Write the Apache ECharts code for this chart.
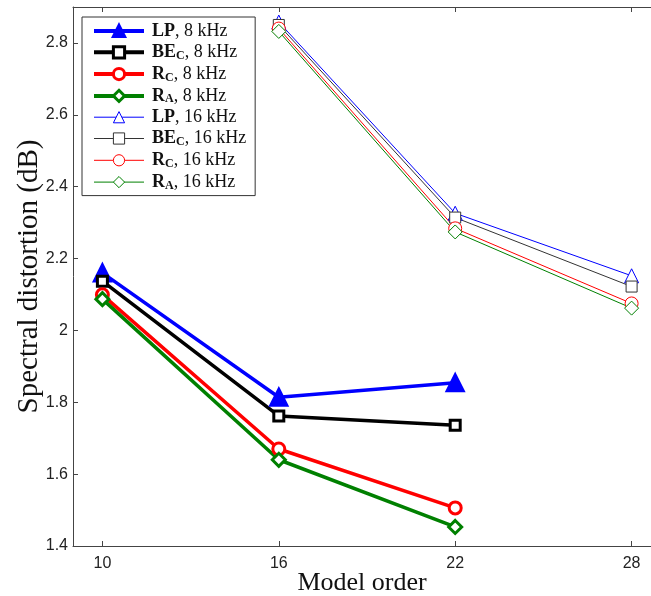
<!DOCTYPE html>
<html>
<head>
<meta charset="utf-8">
<script src="https://cdn.jsdelivr.net/npm/echarts@6/dist/echarts.min.js"></script>
<style>
  html, body { margin: 0; padding: 0; background: #fff; }
  #chart { width: 651px; height: 596px; }
</style>
</head>
<body>
<div id="chart"></div>
<script>
// model orders
const orders8 = [10, 16, 22];
const orders16 = [16, 22, 28];
const xTicks = [10, 16, 22, 28];

// spectral distortion (dB), 8 kHz
const lp8 = [2.16, 1.814, 1.854];
const be8 = [2.137, 1.762, 1.736];
const rc8 = [2.099, 1.67, 1.506];
const ra8 = [2.087, 1.64, 1.453];

// spectral distortion (dB), 16 kHz
const lp16 = [2.858, 2.326, 2.152];
const be16 = [2.85, 2.314, 2.122];
const rc16 = [2.84, 2.284, 2.075];
const ra16 = [2.832, 2.274, 2.062];

const legendText = {
  LP8: "{b|LP}{n|, 8 kHz}",
  BE8: "{b|BE}{s|C}{n|, 8 kHz}",
  RC8: "{b|R}{s|C}{n|, 8 kHz}",
  RA8: "{b|R}{s|A}{n|, 8 kHz}",
  LP16: "{b|LP}{n|, 16 kHz}",
  BE16: "{b|BE}{s|C}{n|, 16 kHz}",
  RC16: "{b|R}{s|C}{n|, 16 kHz}",
  RA16: "{b|R}{s|A}{n|, 16 kHz}",
};

const pairs = (xs, ys) => xs.map((x, i) => [x, ys[i]]);

function thick(name, xs, ys, color, symbol, size, filled) {
  return {
    name,
    type: "line",
    data: pairs(xs, ys),
    symbol,
    symbolSize: size,
    lineStyle: { color, width: 3.5 },
    itemStyle: { color: filled ? color : "#fff", borderColor: color, borderWidth: 3 },
    z: 3,
  };
}

function thin(name, xs, ys, color, symbol, size) {
  return {
    name,
    type: "line",
    data: pairs(xs, ys),
    symbol,
    symbolSize: size,
    lineStyle: { color, width: 1 },
    itemStyle: { color: "#fff", borderColor: color, borderWidth: 1 },
    z: 2,
  };
}

const serif = "'Liberation Serif', 'Times New Roman', serif";
const sans = "'Liberation Sans', Arial, sans-serif";

const series = [
  thick("LP8", orders8, lp8, "#0000ff", "triangle", 16, true),
  thick("BE8", orders8, be8, "#000000", "rect", 10, false),
  thick("RC8", orders8, rc8, "#ff0000", "circle", 12, false),
  thick("RA8", orders8, ra8, "#008000", "diamond", 13, false),
  thin("LP16", orders16, lp16, "#0000ff", "triangle", 14),
  thin("BE16", orders16, be16, "#333333", "rect", 11),
  thin("RC16", orders16, rc16, "#ff0000", "circle", 13),
  thin("RA16", orders16, ra16, "#008000", "diamond", 14),
];

const legendData = series.map((s) => ({
  name: s.name,
  lineStyle: { width: s.lineStyle.width + (s.lineStyle.width > 1 ? 0.5 : 0) },
  itemStyle: { borderWidth: s.itemStyle.borderWidth },
}));

const chart = echarts.init(document.getElementById("chart"));
chart.setOption({
  animation: false,
  backgroundColor: "#fff",
  grid: { left: 73, right: 0, top: 7, bottom: 50, containLabel: false, outerBoundsMode: "none" },
  legend: {
    data: legendData,
    orient: "vertical",
    left: 82,
    top: 17,
    padding: [5, 9, 4, 10],
    itemWidth: 50,
    itemHeight: 14,
    itemGap: 2.8,
    borderColor: "#333",
    borderWidth: 1,
    backgroundColor: "#fff",
    formatter: (name) => legendText[name],
    textStyle: {
      rich: {
        b: { fontFamily: serif, fontWeight: "bold", fontSize: 18, color: "#111", lineHeight: 19, padding: [0, 0, 0, 3] },
        n: { fontFamily: serif, fontSize: 18, color: "#111", lineHeight: 19 },
        s: { fontFamily: serif, fontWeight: "bold", fontSize: 12, color: "#111", lineHeight: 11, padding: [7, 0, 0, 0] },
      },
    },
  },
  xAxis: [
    {
      type: "value",
      min: 9,
      max: 28.66,
      name: "Model order",
      nameLocation: "middle",
      nameGap: 24,
      nameMoveOverlap: false,
      nameTextStyle: { fontFamily: serif, fontSize: 26, color: "#111" },
      axisLine: { lineStyle: { color: "#444" } },
      axisTick: { inside: true, length: 5, customValues: xTicks, lineStyle: { color: "#444" } },
      axisLabel: { customValues: xTicks, fontFamily: sans, fontSize: 16, color: "#222", margin: 10 },
      splitLine: { show: false },
    },
    {
      type: "value",
      position: "top",
      min: 9,
      max: 28.66,
      axisLine: { lineStyle: { color: "#444" } },
      axisTick: { inside: true, length: 5, customValues: xTicks, lineStyle: { color: "#444" } },
      axisLabel: { show: false },
      splitLine: { show: false },
    },
  ],
  yAxis: {
    type: "value",
    min: 1.4,
    max: 2.9,
    interval: 0.2,
    name: "Spectral distortion (dB)",
    nameLocation: "middle",
    nameGap: 29,
    nameMoveOverlap: false,
    nameTextStyle: { fontFamily: serif, fontSize: 29, color: "#111" },
    axisLine: { show: true, lineStyle: { color: "#444" } },
    axisTick: { inside: true, length: 5, lineStyle: { color: "#444" } },
    axisLabel: { fontFamily: sans, fontSize: 16, color: "#222", margin: 5, showMaxLabel: false },
    splitLine: { show: false },
  },
  series,
});
</script>
</body>
</html>
